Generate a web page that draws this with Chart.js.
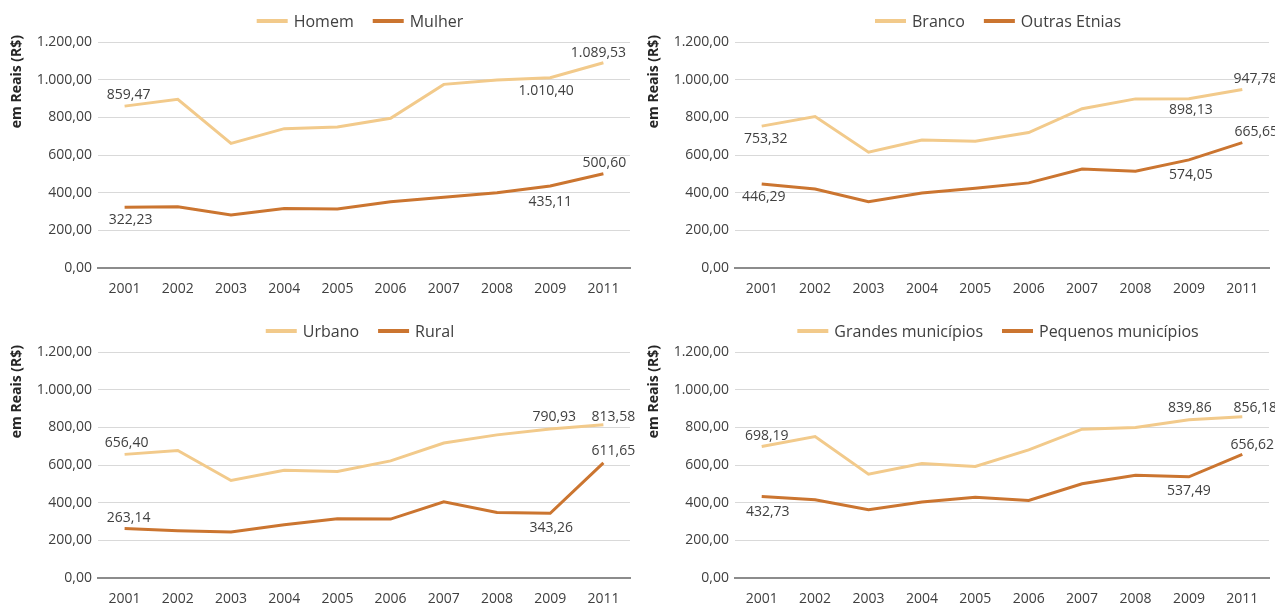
<!DOCTYPE html>
<html lang="pt-BR">
<head>
<meta charset="utf-8">
<title>Rendimento médio em Reais, 2001–2011</title>
<script src="https://cdn.jsdelivr.net/npm/chart.js@4.4.1/dist/chart.umd.min.js"></script>
<style>
  html, body { margin: 0; padding: 0; background: #ffffff; }
  #wrap { position: relative; width: 1275px; height: 606px; overflow: hidden; background: #ffffff; }
  #wrap canvas { position: absolute; }
</style>
</head>
<body>
<div id="wrap">
  <canvas id="c1" width="637" height="296" style="left:0;top:0"></canvas>
  <canvas id="c2" width="638" height="296" style="left:637px;top:0"></canvas>
  <canvas id="c3" width="637" height="296" style="left:0;top:310px"></canvas>
  <canvas id="c4" width="638" height="296" style="left:637px;top:310px"></canvas>
</div>
<script>
// Anos da série
const years = ['2001', '2002', '2003', '2004', '2005', '2006', '2007', '2008', '2009', '2011'];

// Sexo
const homem  = [859.47, 896, 662, 740, 749, 795, 975, 998, 1010.40, 1089.53];
const mulher = [322.23, 325, 281, 316, 313, 352, 376, 399, 435.11, 500.60];

// Cor / etnia
const branco       = [753.32, 804, 615, 680, 673, 719, 846, 898, 898.13, 947.78];
const outrasEtnias = [446.29, 419, 352, 398, 424, 452, 525, 514, 574.05, 665.65];

// Situação do domicílio
const urbano = [656.40, 677, 518, 572, 565, 622, 717, 760, 790.93, 813.58];
const rural  = [263.14, 251, 244, 283, 314, 313, 405, 348, 343.26, 611.65];

// Porte do município
const grandes  = [698.19, 751, 551, 608, 592, 680, 790, 799, 839.86, 856.18];
const pequenos = [432.73, 415, 362, 403, 429, 412, 500, 546, 537.49, 656.62];

// Eixo Y
const yMin = 0, yMax = 1200, yStep = 200;
const yTitle = 'em Reais (R$)';

const LIGHT = '#F2CA8B';
const DARK  = '#CB7530';
const TEXT  = '#404040';

Chart.defaults.font.family = "'Open Sans', 'Noto Sans', sans-serif";

// 1234.5 -> "1.234,50"
function fmtBR(v) {
  const parts = Number(v).toFixed(2).split('.');
  return parts[0].replace(/\B(?=(\d{3})+(?!\d))/g, '.') + ',' + parts[1];
}

// Rótulos de valor em pontos selecionados
const valueLabels = {
  id: 'valueLabels',
  afterDatasetsDraw(chart, args, opts) {
    const ctx = chart.ctx;
    ctx.save();
    ctx.font = '14px ' + Chart.defaults.font.family;
    ctx.fillStyle = TEXT;
    ctx.textAlign = 'center';
    ctx.textBaseline = 'middle';
    (opts.spots || []).forEach((list, di) => {
      const meta = chart.getDatasetMeta(di);
      const data = chart.data.datasets[di].data;
      list.forEach(s => {
        const pt = meta.data[s.i];
        if (!pt) return;
        ctx.fillText(fmtBR(data[s.i]), pt.x + (s.dx || 0), pt.y + s.dy);
      });
    });
    ctx.restore();
  }
};

// Legenda centralizada e título vertical do eixo Y
const frameText = {
  id: 'frameText',
  afterDraw(chart) {
    const ctx = chart.ctx;
    const sw = 31, gap = 6, itemGap = 19, y = 21;
    ctx.save();
    ctx.font = '16px ' + Chart.defaults.font.family;
    const items = chart.data.datasets.map(d => ({
      text: d.label, color: d.borderColor, w: ctx.measureText(d.label).width
    }));
    const total = items.reduce((a, it) => a + sw + gap + it.w, 0) + itemGap * (items.length - 1);
    const ca = chart.chartArea;
    let x = (ca.left + ca.right) / 2 - 4 - total / 2;
    ctx.textBaseline = 'middle';
    ctx.textAlign = 'left';
    items.forEach(it => {
      ctx.fillStyle = it.color;
      ctx.fillRect(x, y - 2, sw, 4);
      x += sw + gap;
      ctx.fillStyle = TEXT;
      ctx.fillText(it.text, x, y + 1);
      x += it.w + itemGap;
    });

    // título do eixo Y, lido de baixo para cima
    ctx.translate(17.5, 35);
    ctx.rotate(-Math.PI / 2);
    ctx.font = 'bold 14px ' + Chart.defaults.font.family;
    ctx.fillStyle = '#262626';
    ctx.textAlign = 'right';
    ctx.textBaseline = 'middle';
    ctx.fillText(yTitle, 0, 0);
    ctx.restore();
  }
};

function makeChart(id, names, series, spots, padRight) {
  return new Chart(document.getElementById(id), {
    type: 'line',
    data: {
      labels: years,
      datasets: [
        { label: names[0], data: series[0], borderColor: LIGHT, backgroundColor: LIGHT,
          borderWidth: 3, pointRadius: 0, tension: 0, fill: false },
        { label: names[1], data: series[1], borderColor: DARK, backgroundColor: DARK,
          borderWidth: 3, pointRadius: 0, tension: 0, fill: false }
      ]
    },
    options: {
      responsive: false,
      animation: false,
      layout: { padding: { top: 42, right: padRight, bottom: 0, left: 0 } },
      plugins: {
        legend: { display: false },
        tooltip: { enabled: false },
        valueLabels: { spots: spots }
      },
      scales: {
        x: {
          offset: true,
          grid: { display: false, drawTicks: false, offset: true },
          border: { color: '#8C8C8C', width: 2 },
          ticks: { color: TEXT, font: { size: 14 }, padding: 13, maxRotation: 0, autoSkip: false },
          afterFit(s) { s.height = 28; s.paddingLeft = 0; s.paddingRight = 0; }
        },
        y: {
          min: yMin, max: yMax,
          border: { display: false },
          grid: {
            drawTicks: false,
            lineWidth: 1,
            color: c => (c.tick && c.tick.value === 0) ? 'rgba(0,0,0,0)' : '#D9D9D9'
          },
          ticks: { stepSize: yStep, color: TEXT, font: { size: 14 }, padding: 6,
                   callback: v => fmtBR(v) },
          title: { display: false, text: yTitle },
          afterFit(s) { s.width = 98; }
        }
      }
    },
    plugins: [valueLabels, frameText]
  });
}

function draw() {
  makeChart('c1', ['Homem', 'Mulher'], [homem, mulher], [
    [{ i: 0, dy: -11, dx: 4 }, { i: 8, dy: 13, dx: -4 }, { i: 9, dy: -10, dx: -5 }],
    [{ i: 0, dy: 13, dx: 6 },  { i: 8, dy: 16, dx: 0 },  { i: 9, dy: -11, dx: 1 }]
  ], 7);
  makeChart('c2', ['Branco', 'Outras Etnias'], [branco, outrasEtnias], [
    [{ i: 0, dy: 13, dx: 4 },  { i: 8, dy: 11, dx: 2 },  { i: 9, dy: -10, dx: 13 }],
    [{ i: 0, dy: 13, dx: 2 },  { i: 8, dy: 15, dx: 2 },  { i: 9, dy: -11, dx: 14 }]
  ], 6);
  makeChart('c3', ['Urbano', 'Rural'], [urbano, rural], [
    [{ i: 0, dy: -11, dx: 2 }, { i: 8, dy: -12, dx: 4 }, { i: 9, dy: -8, dx: 10 }],
    [{ i: 0, dy: -10, dx: 4 }, { i: 8, dy: 15, dx: 1 },  { i: 9, dy: -12, dx: 10 }]
  ], 7);
  makeChart('c4', ['Grandes municípios', 'Pequenos municípios'], [grandes, pequenos], [
    [{ i: 0, dy: -10, dx: 5 }, { i: 8, dy: -12, dx: 1 }, { i: 9, dy: -9, dx: 13 }],
    [{ i: 0, dy: 16, dx: 6 },  { i: 8, dy: 14, dx: 0 },  { i: 9, dy: -9, dx: 10 }]
  ], 6);
}

if (document.fonts && document.fonts.load) {
  Promise.all([
    document.fonts.load("14px 'Open Sans'"),
    document.fonts.load("bold 14px 'Open Sans'")
  ]).then(draw, draw);
} else {
  draw();
}
</script>
</body>
</html>
